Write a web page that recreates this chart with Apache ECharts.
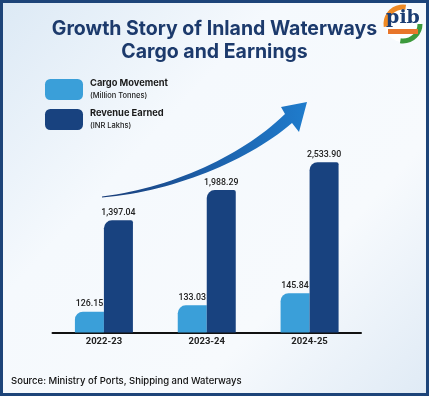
<!DOCTYPE html>
<html>
<head>
<meta charset="utf-8">
<script src="https://cdn.jsdelivr.net/npm/echarts@6/dist/echarts.min.js"></script>
<style>
html,body{margin:0;padding:0;background:#fff;}
#c{width:429px;height:396px;}
</style>
</head>
<body>
<div id="c"></div>
<script>
const categories = ['2022-23', '2023-24', '2024-25'];
const cargoValues = [126.15, 133.03, 145.84];
const revenueValues = [1397.04, 1988.29, 2533.90];
const seriesNames = ['Cargo Movement', 'Revenue Earned'];
const seriesUnits = ['(Million Tonnes)', '(INR Lakhs)'];
const titleLines = ['Growth Story of Inland Waterways', 'Cargo and Earnings'];
const sourceText = 'Source: Ministry of Ports, Shipping and Waterways';

const FONT = 'Inter, "Open Sans", sans-serif';
const NFONT = 'Roboto, Inter, sans-serif';
const fmt = v => v.toLocaleString('en-US', {minimumFractionDigits: 2, maximumFractionDigits: 2});

// decorative arrow outline (sampled cubic curves)
function cubic(p0, p1, p2, p3, n) {
  const pts = [];
  for (let i = 0; i <= n; i++) {
    const t = i / n, u = 1 - t;
    pts.push([
      u*u*u*p0[0] + 3*u*u*t*p1[0] + 3*u*t*t*p2[0] + t*t*t*p3[0],
      u*u*u*p0[1] + 3*u*u*t*p1[1] + 3*u*t*t*p2[1] + t*t*t*p3[1]
    ]);
  }
  return pts;
}
const upper = cubic([102,196.5],[172,188],[243,155],[285,114], 30);
const lower = cubic([292,123],[248,161],[172,192],[102,197.5], 30);
const arrowPts = upper.concat([[281,107],[307,102],[299,132]], lower);

const chart = echarts.init(document.getElementById('c'), null, {renderer: 'canvas'});
chart.setOption({
  animation: false,
  backgroundColor: {
    type: 'linear', x: 0, y: 0, x2: 1, y2: 1,
    colorStops: [
      {offset: 0, color: '#dce9f5'},
      {offset: 0.35, color: '#f5f9fd'},
      {offset: 0.7, color: '#f7fafd'},
      {offset: 1, color: '#dfeaf5'}
    ]
  },
  title: {
    text: titleLines.join('\n'),
    left: 209.5,
    top: 13,
    textAlign: 'center',
    textStyle: {fontFamily: FONT, fontSize: 19.5, fontWeight: 700, color: '#1c3a6c', lineHeight: 23}
  },
  legend: {
    orient: 'vertical',
    left: 40,
    top: 74,
    itemWidth: 38,
    itemHeight: 21,
    itemGap: 9,
    icon: 'roundRect',
    data: seriesNames,
    formatter: name => '{a|' + name + '}\n{b|' + seriesUnits[seriesNames.indexOf(name)] + '}',
    textStyle: {
      padding: [0, 0, 0, 2],
      rich: {
        a: {fontFamily: FONT, fontSize: 9.3, fontWeight: 700, color: '#1a1a1a', lineHeight: 13},
        b: {fontFamily: FONT, fontSize: 7.5, fontWeight: 500, color: '#222', lineHeight: 12}
      }
    }
  },
  grid: {left: 52.5, right: 68, top: 92.5, bottom: 63.5},
  xAxis: {
    type: 'category',
    data: categories,
    axisLine: {onZero: false, lineStyle: {color: '#111', width: 2}},
    axisTick: {show: false},
    axisLabel: {fontFamily: NFONT, fontSize: 9.5, fontWeight: 700, color: '#222', margin: 4}
  },
  yAxis: [
    {type: 'value', min: 104, max: 360, show: false, splitLine: {show: false}},
    {type: 'value', min: -800, max: 3900, startValue: -800, show: false, splitLine: {show: false}}
  ],
  series: [
    {
      name: seriesNames[0], type: 'bar', yAxisIndex: 0, data: cargoValues,
      barWidth: 29, barGap: '0%',
      itemStyle: {color: '#3a9fd9', borderRadius: [8, 0, 0, 0]},
      label: {show: true, position: 'top', distance: 3, formatter: p => fmt(p.value),
        fontFamily: NFONT, fontSize: 8.8, fontWeight: 500, color: '#222'}
    },
    {
      name: seriesNames[1], type: 'bar', yAxisIndex: 1, data: revenueValues,
      barWidth: 29,
      itemStyle: {color: '#18427f', borderRadius: [8, 2, 0, 0]},
      label: {show: true, position: 'top', distance: 3, formatter: p => fmt(p.value),
        fontFamily: NFONT, fontSize: 8.8, fontWeight: 500, color: '#222'}
    }
  ],
  graphic: [
    {
      type: 'polygon', z: 1,
      shape: {points: arrowPts},
      style: {fill: {type: 'linear', x: 0, y: 0, x2: 1, y2: 0,
        colorStops: [{offset: 0, color: '#1a3d78'}, {offset: 0.5, color: '#1c5ea8'}, {offset: 1, color: '#1f7ccc'}]}}
    },
    {
      type: 'text', left: 11, top: 376,
      style: {text: sourceText, font: '500 9.5px ' + FONT, fill: '#111'}
    },
    {type: 'circle', shape: {cx: 403, cy: 24, r: 18}, style: {fill: '#ffffff'}},
    {type: 'arc', shape: {cx: 403, cy: 24, r: 17, startAngle: Math.PI * 0.95, endAngle: Math.PI * 1.55}, style: {stroke: '#f08a24', lineWidth: 5, fill: 'none'}},
    {type: 'arc', shape: {cx: 403, cy: 24, r: 17, startAngle: 0, endAngle: Math.PI * 0.55}, style: {stroke: '#3c9a3c', lineWidth: 5, fill: 'none'}},
    {type: 'text', x: 403, y: 18, style: {text: 'pib', font: '700 19px "DejaVu Serif", serif', fill: '#1c3d73', align: 'center', verticalAlign: 'middle'}},
    {type: 'rect', shape: {x: 388, y: 29, width: 30, height: 5}, style: {fill: '#e8762a'}},
    {type: 'rect', shape: {x: 1.5, y: 1.5, width: 426, height: 393}, style: {fill: 'none', stroke: '#1d4479', lineWidth: 3}}
  ]
});
</script>
</body>
</html>
